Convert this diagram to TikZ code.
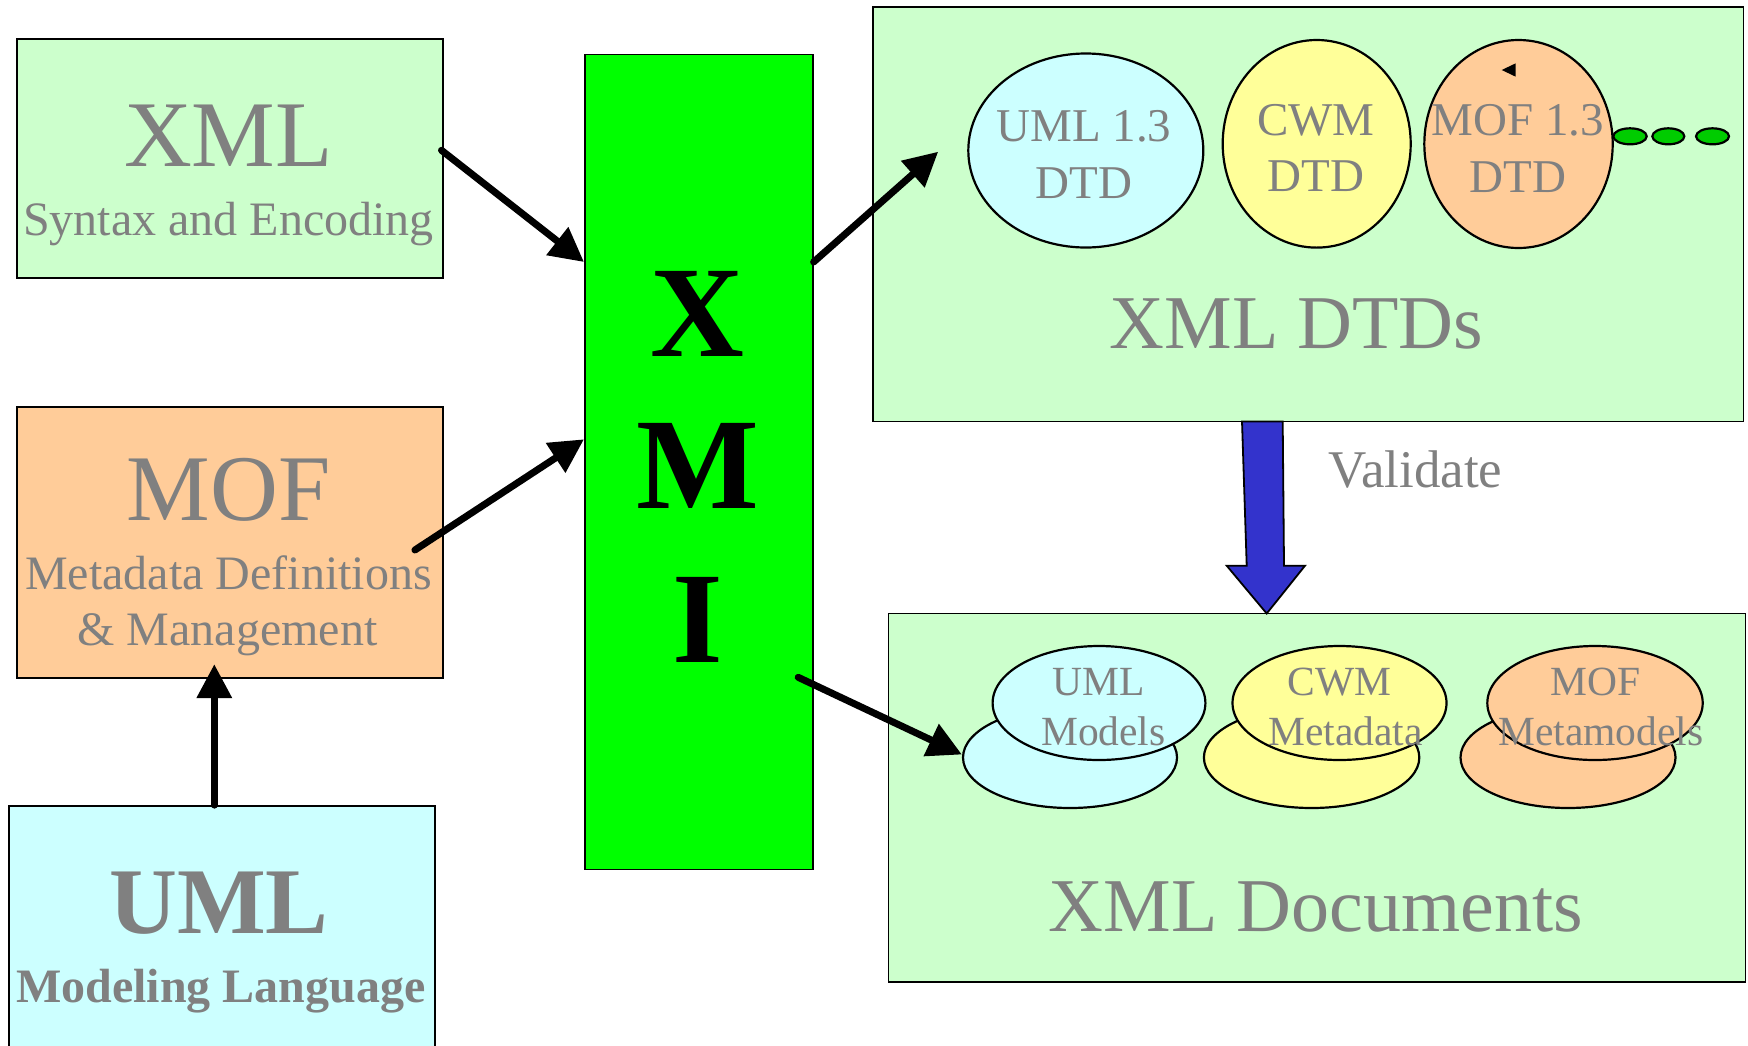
\documentclass[tikz,border=0pt]{standalone}
\usepackage{fontspec}
\setmainfont{Liberation Serif}
\usetikzlibrary{shapes.geometric,arrows.meta,calc}
\definecolor{mintbg}{HTML}{CCFFCC}
\definecolor{peach}{HTML}{FFCC99}
\definecolor{paleblue}{HTML}{CCFFFF}
\definecolor{paleyellow}{HTML}{FFFF99}
\definecolor{xmigreen}{HTML}{00FF00}
\definecolor{dotgreen}{HTML}{00CC00}
\definecolor{validblue}{HTML}{3333CC}
\definecolor{txtgray}{HTML}{808080}
\tikzset{
    box/.style={draw, rectangle, line width=0.9pt, inner sep=0},
    blob/.style={draw, ellipse, line width=1.1pt, inner sep=0},
    txt/.style={anchor=base, inner sep=0, text=txtgray},
    bigtxt/.style={txt, font=\fontsize{47}{56}\selectfont},
    subtxt/.style={txt, font=\fontsize{24}{29}\selectfont},
    dtdtxt/.style={txt, font=\fontsize{23.5}{28}\selectfont},
    modtxt/.style={txt, font=\fontsize{20.75}{25}\selectfont},
    headtxt/.style={txt, font=\fontsize{38}{46}\selectfont},
    xmitxt/.style={anchor=base, inner sep=0, font=\fontsize{65}{78}\selectfont\bfseries},
    arr/.style={line width=3.5pt, line cap=round, -{Triangle[length=17pt,width=17pt]}},
}

\begin{document}
\begin{tikzpicture}[x=0.5pt,y=-0.5pt]
    \useasboundingbox (0,0) rectangle (1748,1045);
    \node[box, fill=mintbg, minimum width=213pt, minimum height=119.3pt] (xml) at (229.6,158.3) {};
    \node[box, fill=peach, minimum width=213pt, minimum height=135.5pt] (mof) at (229.6,542.5) {};
    \node[box, fill=paleblue, minimum width=213pt, minimum height=140pt] (uml) at (222,946) {};
    \node[box, fill=xmigreen, minimum width=113.9pt, minimum height=407.5pt] (xmi) at (698.8,462) {};
    \node[box, fill=mintbg, minimum width=435.3pt, minimum height=207.4pt] (dtds) at (1308.2,214.1) {};
    \node[box, fill=mintbg, minimum width=428.5pt, minimum height=184.3pt] (docs) at (1317,797.8) {};

    \node[bigtxt] (xmlt) at (228.5,166) {XML};
    \node[subtxt] (xmls) at (228.5,235) {Syntax and Encoding};
    \node[bigtxt] (moft) at (228.5,520) {MOF};
    \node[subtxt] (mofs) at (228.5,589) {Metadata Definitions};
    \node[subtxt] (mofm) at (227.5,645.6) {\& Management};
    \node[txt, font=\fontsize{47}{56}\selectfont\bfseries] (umlt) at (219,933) {UML};
    \node[txt, font=\fontsize{24}{29}\selectfont\bfseries] (umls) at (220.8,1002.7) {Modeling Language};

    \node[xmitxt] (xmix) at (697.7,356.7) {X};
    \node[xmitxt] (xmim) at (697.7,508.3) {M};
    \node[xmitxt] (xmii) at (697.7,662.7) {I};

    \node[blob, fill=paleblue, minimum width=117.5pt, minimum height=97pt] (umld) at (1085.8,150.5) {};
    \node[blob, fill=paleyellow, minimum width=94pt, minimum height=103.8pt] (cwmd) at (1316.7,143.8) {};
    \node[blob, fill=peach, minimum width=94.2pt, minimum height=104pt] (mofd) at (1518.5,144) {};
    \node[blob, fill=dotgreen, minimum width=16.7pt, minimum height=8pt] (dota) at (1630,136.3) {};
    \node[blob, fill=dotgreen, minimum width=16pt, minimum height=8pt] (dotb) at (1668.3,136.3) {};
    \node[blob, fill=dotgreen, minimum width=16.5pt, minimum height=8pt] (dotc) at (1712.5,136.3) {};
    \fill (1501.7,70) -- (1515.7,63.3) -- (1515.7,76.7) -- cycle;
    \node[dtdtxt] at (1084,141) {UML 1.3};
    \node[dtdtxt] at (1084,198.3) {DTD};
    \node[dtdtxt] at (1315.8,135) {CWM};
    \node[dtdtxt] at (1315.8,191.7) {DTD};
    \node[dtdtxt] at (1518,135) {MOF 1.3};
    \node[dtdtxt] at (1518,192.7) {DTD};
    \node[headtxt] (dtdst) at (1296.5,348) {XML DTDs};

    \node[blob, fill=paleblue, minimum width=107pt, minimum height=50.5pt] (umlb) at (1070,757.5) {};
    \node[blob, fill=paleblue, minimum width=106.4pt, minimum height=57pt] (umlf) at (1099,703) {};
    \node[blob, fill=paleyellow, minimum width=107.7pt, minimum height=50.5pt] (cwmb) at (1311.6,757.5) {};
    \node[blob, fill=paleyellow, minimum width=107pt, minimum height=57pt] (cwmf) at (1339.5,703) {};
    \node[blob, fill=peach, minimum width=107.5pt, minimum height=50.5pt] (mofb) at (1568,757.5) {};
    \node[blob, fill=peach, minimum width=107.7pt, minimum height=57pt] (moff) at (1595,703) {};
    \node[modtxt] at (1098.7,695) {UML};
    \node[modtxt] at (1103.4,745) {Models};
    \node[modtxt] at (1339.5,695) {CWM};
    \node[modtxt] at (1345.7,745) {Metadata};
    \node[modtxt] at (1595.7,695) {MOF};
    \node[modtxt] at (1600.8,745) {Metamodels};
    \node[headtxt] (docst) at (1316,931) {XML Documents};

    \draw[fill=validblue, line width=0.9pt] (1242,421.5) -- (1282.7,421.5) -- (1284,565.7) -- (1305,565.7)
        -- (1266.7,613.5) -- (1226.7,565.7) -- (1246.7,565.7) -- cycle;
    \node[txt, font=\fontsize{26.5}{32}\selectfont] (valt) at (1415.5,487.3) {Validate};

    \draw[arr] ($(xml.east)+(-2,-8)$) -- ($(xmi.west)+(0,-200)$);
    \draw[arr] ($(mof.east)+(-28.6,7.5)$) -- ($(xmi.west)+(0,-22.7)$);
    \draw[arr] ($(uml.north)+(-7.7,0)$) -- ($(mof.south)+(-15.3,-14.7)$);
    \draw[arr] ($(xmi.east)+(0,-200)$) -- ($(umld.west)+(-29,1.2)$);
    \draw[arr] ($(xmi.east)+(-15.4,215.3)$) -- ($(umlb.west)+(0,-3)$);
\end{tikzpicture}
\end{document}
